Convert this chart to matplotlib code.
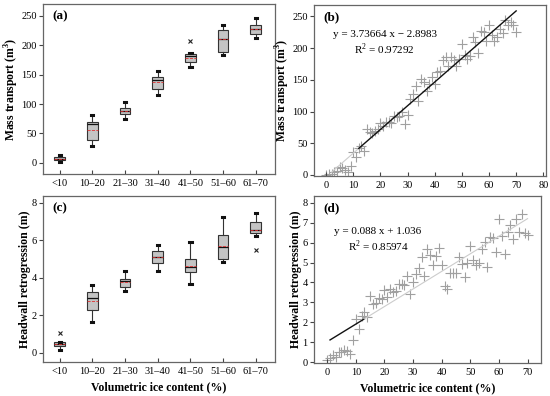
import numpy as np
import matplotlib
matplotlib.use('Agg')
import matplotlib.pyplot as plt

plt.rcParams['font.family'] = ['Liberation Serif', 'DejaVu Serif']
plt.rcParams['mathtext.fontset'] = 'custom'
plt.rcParams['mathtext.rm'] = 'Liberation Serif'
plt.rcParams['mathtext.bf'] = 'Liberation Serif:bold'

# ---- box plot data ----
cats = ['<10', '10\u201320', '21\u201330', '31\u201340', '41\u201350', '51\u201360', '61\u201370']

mt_low = [1, 29, 75, 116, 163, 183, 212]
mt_q1 = [4, 38, 83, 126, 172, 188, 219]
mt_med = [6, 66, 88, 141, 181, 210, 228]
mt_mean = [7, 56, 88, 138, 179, 210, 228]
mt_q3 = [10.5, 70, 93, 146, 185, 226, 235]
mt_high = [13, 81, 103, 156, 186, 235, 247]
mt_fliers = [[], [], [], [], [207], [], []]

hr_low = [0.15, 1.65, 3.27, 4.37, 3.65, 4.85, 6.2]
hr_q1 = [0.35, 2.27, 3.52, 4.77, 4.3, 5.0, 6.37]
hr_med = [0.45, 2.9, 3.8, 5.1, 4.55, 5.62, 6.52]
hr_mean = [0.45, 2.75, 3.75, 5.1, 4.62, 5.7, 6.55]
hr_q3 = [0.55, 3.22, 3.95, 5.42, 5.0, 6.28, 6.95]
hr_high = [0.55, 3.62, 4.37, 5.75, 5.88, 7.22, 7.47]
hr_fliers = [[1.07], [], [], [], [], [], [5.47]]

# ---- scatter data ----
ice = list(range(0, 71))
mass = [0, 1, 2, 4, 6, 12, 11, 8, 5, 14, 37, 29, 42, 45, 38, 73, 67, 66, 70, 72,
        82, 77, 84, 83, 82, 93, 92, 93, 100, 80, 95, 120, 127, 140, 117, 151, 147,
        132, 143, 155, 143, 163, 164, 181, 186, 172, 186, 182, 172, 183, 207, 189,
        183, 188, 218, 209, 193, 227, 226, 212, 236, 220, 211, 217, 230, 224, 245,
        236, 241, 236, 225]
head = [0.1, 0.2, 0.35, 0.25, 0.5, 0.5, 0.6, 0.55, 0.4, 1.1, 2.15, 1.65, 2.3, 2.5,
        2.25, 3.3, 2.9, 2.95, 3.2, 3.15, 3.6, 3.25, 3.65, 3.5, 3.55, 3.9, 3.9, 3.85,
        4.35, 3.4, 4.0, 4.45, 4.75, 5.3, 4.35, 5.7, 5.4, 4.9, 5.35, 5.75, 4.9, 3.8,
        3.65, 4.5, 4.5, 4.5, 5.3, 4.95, 4.3, 5.0, 5.85, 5.15, 4.9, 5.0, 5.7, 6.05,
        4.8, 6.3, 6.25, 5.55, 7.2, 6.35, 5.45, 6.55, 6.9, 6.2, 7.2, 6.55, 7.45, 6.5, 6.4]

fit_b = (3.73664, -2.8983)
fit_d = (0.088, 1.036)

def stats(low, q1, med, mean, q3, high, fl):
    out = []
    for i in range(len(low)):
        out.append(dict(whislo=low[i], q1=q1[i], med=med[i], mean=mean[i],
                        q3=q3[i], whishi=high[i], fliers=fl[i]))
    return out

def boxpanel(ax, st):
    ax.bxp(st, positions=range(1, 8), widths=0.32, patch_artist=True,
           showmeans=True, meanline=True, capwidths=0.07,
           boxprops=dict(facecolor='#c4c4c4', edgecolor='#333333', linewidth=0.8),
           medianprops=dict(color='#111111', linewidth=0.9),
           meanprops=dict(color='#e03030', linestyle='--', linewidth=0.6),
           whiskerprops=dict(color='#333333', linewidth=0.8),
           capprops=dict(color='#111111', linewidth=2.2),
           flierprops=dict(marker='x', markersize=2.5, markeredgecolor='#222222',
                           markeredgewidth=0.8))
    ax.set_xticks(range(1, 8))
    ax.set_xticklabels(cats)
    ax.set_xlim(0.49, 7.59)

fig = plt.figure(figsize=(5.5, 3.96), dpi=100)
W, H = 550.0, 396.0
def axrect(l, r, t, b):
    return fig.add_axes([l / W, 1 - b / H, (r - l) / W, (b - t) / H])

axa = axrect(43, 275, 4, 174)
axb = axrect(314, 546, 5, 176)
axc = axrect(43, 275, 196, 362)
axd = axrect(314, 541, 196, 363)

boxpanel(axa, stats(mt_low, mt_q1, mt_med, mt_mean, mt_q3, mt_high, mt_fliers))
axa.set_ylim(-19, 270)
axa.set_yticks([0, 50, 100, 150, 200, 250])
axa.set_ylabel('Mass transport (m$^\\mathbf{3}$)', fontweight='bold')

boxpanel(axc, stats(hr_low, hr_q1, hr_med, hr_mean, hr_q3, hr_high, hr_fliers))
axc.set_ylim(-0.5, 8.35)
axc.set_yticks([0, 2, 4, 6, 8])
axc.set_ylabel('Headwall retrogression (m)', fontweight='bold')
axc.set_xlabel('Volumetric ice content (%)', fontweight='bold')

# scatter (b)
axb.scatter(ice, mass, marker='+', s=45, c='#a0a0a0', linewidths=0.8)
xs = np.array([2, 12])
axb.plot(xs, fit_b[0] * xs + fit_b[1], color='#cccccc', lw=0.8)
xs = np.array([12, 70])
axb.plot(xs, fit_b[0] * xs + fit_b[1], color='#111111', lw=1.0)
axb.set_xlim(-4.5, 81)
axb.set_ylim(-1.6, 268)
axb.set_xticks(range(0, 81, 10))
axb.set_yticks([0, 50, 100, 150, 200, 250])
axb.set_ylabel('Mass transport (m$^\\mathbf{3}$)', fontweight='bold')
axb.text(21.5, 221, 'y = %.5f x \u2212 %.4f' % (fit_b[0], -fit_b[1]), ha='center', va='center', fontsize=8)
axb.text(21.5, 198.5, 'R$^2$ = 0.97292', ha='center', va='center', fontsize=8)

# scatter (d)
axd.scatter(ice, head, marker='+', s=45, c='#a0a0a0', linewidths=0.8)
xs = np.array([1, 13])
axd.plot(xs, fit_d[0] * xs + fit_d[1], color='#111111', lw=1.0)
xs = np.array([13, 70])
axd.plot(xs, fit_d[0] * xs + fit_d[1], color='#cccccc', lw=0.8)
axd.set_xlim(-4.6, 74.7)
axd.set_ylim(-0.03, 8.33)
axd.set_xticks(range(0, 71, 10))
axd.set_yticks(range(0, 9))
axd.set_ylabel('Headwall retrogression (m)', fontweight='bold')
axd.set_xlabel('Volumetric ice content (%)', fontweight='bold')
axd.text(17.8, 6.54, 'y = %.3f x + %.3f' % fit_d, ha='center', va='center', fontsize=8)
axd.text(17.9, 5.82, 'R$^2$ = 0.85974', ha='center', va='center', fontsize=8)

for ax, lab in zip([axa, axb, axc, axd], ['(a)', '(b)', '(c)', '(d)']):
    ax.text(0.04, 0.965, lab, transform=ax.transAxes, ha='left', va='top',
            fontsize=9.5, fontweight='bold')
    ax.tick_params(axis='x', direction='in', labelsize=7.5, length=3, width=0.8,
                   color='#444444', pad=3.5)
    ax.tick_params(axis='y', direction='out', labelsize=7.5, length=3, width=0.8,
                   color='#444444', pad=1.5)
    ax.xaxis.label.set_size(8.5)
    ax.yaxis.label.set_size(8.5)
    ax.xaxis.labelpad = 4
    ax.yaxis.labelpad = 0.5
    for s in ax.spines.values():
        s.set_color('#666666')
        s.set_linewidth(0.9)

fig.savefig('out.png', dpi=100)
